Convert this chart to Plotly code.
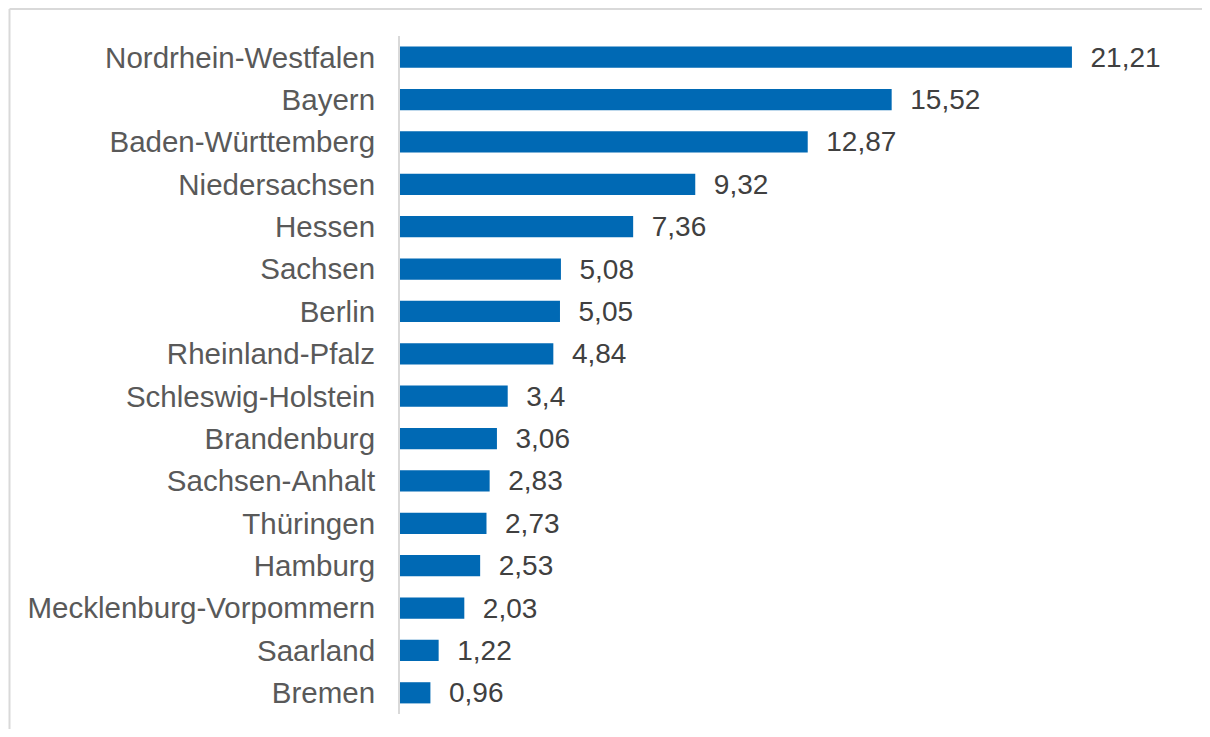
import plotly.graph_objects as go

states = ["Nordrhein-Westfalen", "Bayern", "Baden-Württemberg", "Niedersachsen", "Hessen",
          "Sachsen", "Berlin", "Rheinland-Pfalz", "Schleswig-Holstein", "Brandenburg",
          "Sachsen-Anhalt", "Thüringen", "Hamburg", "Mecklenburg-Vorpommern", "Saarland", "Bremen"]
values = [21.21, 15.52, 12.87, 9.32, 7.36, 5.08, 5.05, 4.84, 3.4, 3.06, 2.83, 2.73, 2.53, 2.03, 1.22, 0.96]

labels = ["  " + (("%g" % v).replace(".", ",")) for v in values]

# page body has an 8px margin; figure sized/placed to compensate
W, H = 1194, 721
L, R, T, B = 392, 10, 28, 15
xmax = 25

fig = go.Figure(go.Bar(
    y=states, x=values, orientation="h",
    marker=dict(color="#0069B4", line=dict(width=0)),
    text=labels, textposition="outside", cliponaxis=False, constraintext="none",
    textfont=dict(family="Liberation Sans, Arial, sans-serif", size=28, color="#404040"),
))

pw = W - L - R
ph = H - T - B
bx = (1.5 - L) / pw
by = ((H - B) - 1) / ph
border = dict(color="#D9D9D9", width=2)
fig.add_shape(type="line", xref="paper", yref="paper",
              x0=bx, x1=(W + 20 - L) / pw, y0=by, y1=by, line=border, layer="below")
fig.add_shape(type="line", xref="paper", yref="paper",
              x0=bx, x1=bx, y0=-(B + 20) / ph, y1=by, line=border, layer="below")

fig.update_layout(
    width=W, height=H,
    margin=dict(l=L, r=R, t=T, b=B),
    plot_bgcolor="white", paper_bgcolor="white",
    bargap=0.5,
    showlegend=False,
    xaxis=dict(range=[0, xmax], visible=False, showgrid=False, zeroline=False),
    yaxis=dict(autorange="reversed", showgrid=False, zeroline=False,
               showline=True, linecolor="#D9D9D9", linewidth=2,
               ticks="", ticklabelstandoff=17,
               tickfont=dict(family="Liberation Sans, Arial, sans-serif", size=29.5, color="#595959")),
)

fig.write_html("out.html")
